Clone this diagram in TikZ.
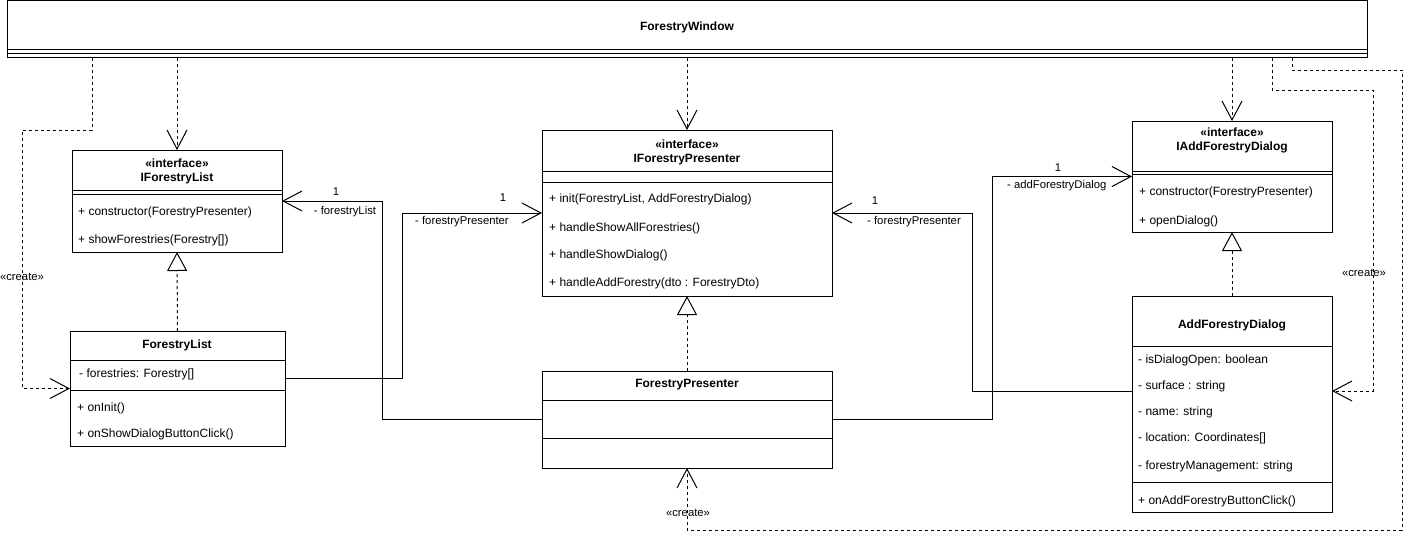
\documentclass[tikz,border=0pt]{standalone}
\usepackage{fontspec}
\setmainfont{Liberation Sans}
\usetikzlibrary{arrows.meta}

\begin{document}
\begin{tikzpicture}[x=1pt,y=-1pt,
    box/.style={draw, line width=1pt, anchor=north west, inner sep=0pt, outer sep=0pt},
    row/.style={anchor=west, inner sep=0pt, font=\fontsize{12}{14}\selectfont},
    title/.style={inner sep=0pt, align=center, font=\fontsize{12}{14}\selectfont\bfseries},
    lbl/.style={inner sep=0pt, font=\fontsize{11.3}{14}\selectfont},
    dep/.style={line width=1pt, dash pattern=on 3pt off 3pt, -{Straight Barb[length=19pt,width=20pt]}},
    real/.style={line width=1pt, dash pattern=on 3pt off 3pt, -{Triangle[open,length=19pt,width=20pt,fill=white]}},
    assoc/.style={line width=1pt, -{Straight Barb[length=19pt,width=20pt]}}]
    \useasboundingbox (0,0) rectangle (1423,551);

    % Window class
    \node[box, minimum width=1360pt, minimum height=57.5pt] (fw) at (7,0.5) {};
    \draw[line width=1pt] (7,50) -- (1367,50);
    \draw[line width=1pt] (7,54) -- (1367,54);
    \node[title] (fw-t) at (687,27) {ForestryWindow};

    % List interface
    \node[box, minimum width=210pt, minimum height=102pt] (ifl) at (72,150) {};
    \draw[line width=1pt] (72,190) -- (282,190);
    \draw[line width=1pt] (72,194) -- (282,194);
    \node[title] (ifl-t) at (177,171) {«interface»\\IForestryList};
    \node[row] (ifl-m1) at (78,212) {+ constructor(ForestryPresenter)};
    \node[row] (ifl-m2) at (78,240) {+ showForestries(Forestry[])};

    % List class
    \node[box, minimum width=215pt, minimum height=115pt] (fl) at (70,331) {};
    \draw[line width=1pt] (70,360) -- (285,360);
    \draw[line width=1pt] (70,390) -- (285,390);
    \node[title] (fl-t) at (177,345) {ForestryList};
    \node[row] (fl-a1) at (79,374) {- forestries: Forestry[]};
    \node[row] (fl-m1) at (77,408) {+ onInit()};
    \node[row] (fl-m2) at (77,434) {+ onShowDialogButtonClick()};

    % Presenter interface
    \node[box, minimum width=290pt, minimum height=166pt] (ifp) at (542,130) {};
    \draw[line width=1pt] (542,171) -- (832,171);
    \draw[line width=1pt] (542,182) -- (832,182);
    \node[title] (ifp-t) at (687,152) {«interface»\\IForestryPresenter};
    \node[row] (ifp-m1) at (549,199) {+ init(ForestryList, AddForestryDialog)};
    \node[row] (ifp-m2) at (549,228) {+ handleShowAllForestries()};
    \node[row] (ifp-m3) at (549,255) {+ handleShowDialog()};
    \node[row] (ifp-m4) at (549,283) {+ handleAddForestry(dto : ForestryDto)};

    % Presenter class
    \node[box, minimum width=290pt, minimum height=97pt] (fp) at (542,371) {};
    \draw[line width=1pt] (542,400) -- (832,400);
    \draw[line width=1pt] (542,438) -- (832,438);
    \node[title] (fp-t) at (687,385) {ForestryPresenter};

    % Dialog interface
    \node[box, minimum width=200pt, minimum height=111pt] (iad) at (1132,121) {};
    \draw[line width=1pt] (1132,171) -- (1332,171);
    \draw[line width=1pt] (1132,174) -- (1332,174);
    \node[title] (iad-t) at (1232,140) {«interface»\\IAddForestryDialog};
    \node[row] (iad-m1) at (1139,192) {+ constructor(ForestryPresenter)};
    \node[row] (iad-m2) at (1139,221) {+ openDialog()};

    % Dialog class
    \node[box, minimum width=200pt, minimum height=216pt] (ad) at (1132,296) {};
    \draw[line width=1pt] (1132,346) -- (1332,346);
    \draw[line width=1pt] (1132,482) -- (1332,482);
    \node[title] (ad-t) at (1232,325) {AddForestryDialog};
    \node[row] (ad-a1) at (1138,360) {- isDialogOpen: boolean};
    \node[row] (ad-a2) at (1138,386) {- surface : string};
    \node[row] (ad-a3) at (1138,412) {- name: string};
    \node[row] (ad-a4) at (1138,438) {- location: Coordinates[]};
    \node[row] (ad-a5) at (1138,466) {- forestryManagement: string};
    \node[row] (ad-m1) at (1138,501) {+ onAddForestryButtonClick()};

    % Dependencies from the window
    \draw[dep] ([xshift=85pt]fw.south west) |- (22,130) |- (fl.west);
    \draw[dep] (fw.south -| ifl.north) -- (ifl.north);
    \draw[dep] (fw.south) -- (ifp.north);
    \draw[dep] (fw.south -| iad.north) -- (iad.north);
    \draw[dep] ([xshift=1265pt]fw.south west) |- (1373,90) |- ([yshift=13pt]ad.east);
    \draw[dep] ([xshift=1285pt]fw.south west) |- (1402,70) |- (687,530) -- (fp.south);
    \node[lbl] (cr1) at (22,277) {«create»};
    \node[lbl] (cr2) at (1364,273) {«create»};
    \node[lbl] (cr3) at (688,513) {«create»};

    % Realizations
    \draw[real] (fl.north) -- (ifl.south);
    \draw[real] (fp.north) -- (ifp.south);
    \draw[real] (ad.north) -- (iad.south);

    % Associations
    \draw[assoc] (fp.west) -| ([xshift=100pt]ifl.east) -- (ifl.east);
    \draw[assoc] ([yshift=10pt]fl.east) -| ([xshift=-140pt]ifp.west) -- (ifp.west);
    \draw[assoc] ([yshift=13pt]ad.west) -| ([xshift=140pt]ifp.east) -- (ifp.east);
    \draw[assoc] (fp.east) -| ([xshift=-140pt]iad.west) -- (iad.west);
    \node[lbl] (m1) at (336,192) {1};
    \node[lbl] (r1) at (345,212) {- forestryList};
    \node[lbl] (m2) at (503,198) {1};
    \node[lbl, anchor=west] (r2) at (415,222) {- forestryPresenter};
    \node[lbl] (m3) at (875,201) {1};
    \node[lbl, anchor=west] (r3) at (867,222) {- forestryPresenter};
    \node[lbl] (m4) at (1058,168) {1};
    \node[lbl, anchor=west] (r4) at (1007,186) {- addForestryDialog};
\end{tikzpicture}
\end{document}
